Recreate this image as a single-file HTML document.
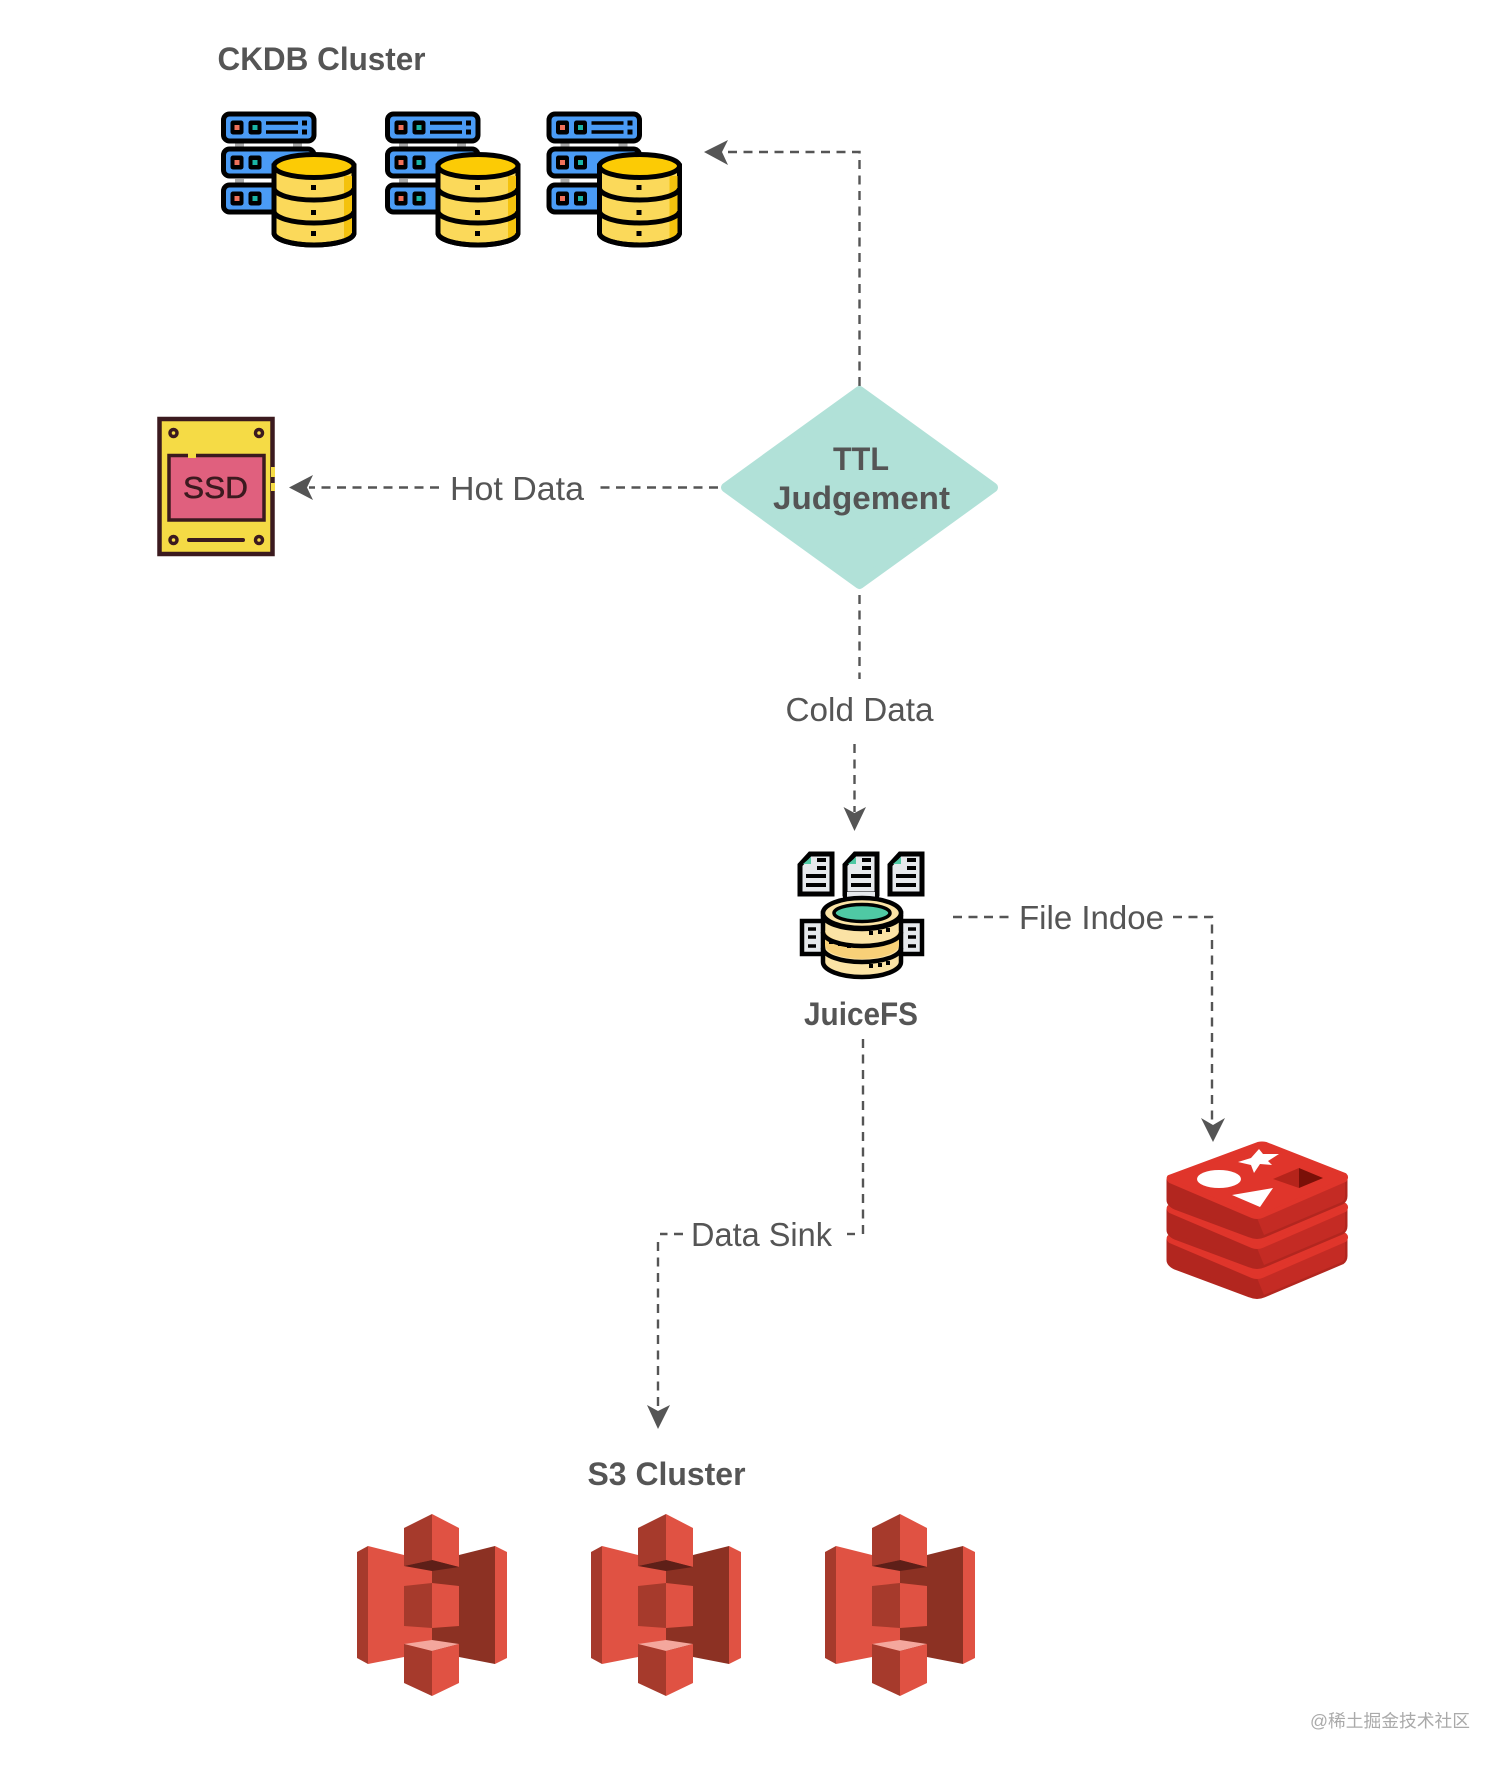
<!DOCTYPE html>
<html>
<head>
<meta charset="utf-8">
<style>
html,body{margin:0;padding:0;background:#fff;}
svg{display:block;}
text{font-family:"Liberation Sans","Noto Sans CJK SC",sans-serif;fill:#555;}
.b{font-weight:bold;font-size:32px;}
.r{font-size:33px;}
.d{fill:none;stroke:#555;stroke-width:2.4;stroke-dasharray:9 6.5;}
</style>
</head>
<body>
<svg width="1512" height="1772" viewBox="0 0 1512 1772" xmlns="http://www.w3.org/2000/svg">
<defs>
  <g id="row">
    <rect x="223.500" y="114" width="90.500" height="27" rx="6" fill="#4a9bf5" stroke="#000" stroke-width="5"/>
    <rect x="230.500" y="120.500" width="13" height="14" rx="2.500" fill="#000"/>
    <rect x="248.500" y="120.500" width="13" height="14" rx="2.500" fill="#000"/>
    <rect x="234.500" y="125" width="5" height="5" fill="#f0715a"/>
    <rect x="252.500" y="125" width="5" height="5" fill="#1ab5a5"/>
  </g>
  <g id="ckdb">
    <rect x="232" y="142" width="72" height="7" fill="#fff"/>
    <rect x="235" y="143" width="9" height="5" fill="#aaa"/>
    <rect x="293" y="143" width="9" height="5" fill="#aaa"/>
    <rect x="232" y="178" width="45" height="7" fill="#fff"/>
    <rect x="235" y="179" width="9" height="5" fill="#aaa"/>
    <use href="#row"/>
    <use href="#row" y="35"/>
    <use href="#row" y="71"/>
    <path d="M266 123H298M266 132H298" stroke="#000" stroke-width="3.500"/>
    <rect x="302" y="120.500" width="5" height="5" fill="#000"/>
    <rect x="302" y="129.500" width="5" height="5" fill="#000"/>
    <path d="M274 166V233A40 12 0 0 0 354 233V166Z" fill="#fbd95a" stroke="#000" stroke-width="5"/>
    <path d="M344 176H352V234L344 240Z" fill="#f4c20d"/>
    <ellipse cx="314" cy="166" rx="40" ry="11.500" fill="#fccb05" stroke="#000" stroke-width="5"/>
    <path d="M274 188A40 12 0 0 0 354 188M274 211A40 12 0 0 0 354 211" fill="none" stroke="#000" stroke-width="5"/>
    <path d="M274 233A40 12 0 0 0 354 233" fill="none" stroke="#000" stroke-width="5"/>
    <rect x="311" y="185" width="5" height="5" fill="#000"/>
    <rect x="311" y="210" width="5" height="5" fill="#000"/>
    <rect x="311" y="231" width="5" height="5" fill="#000"/>
  </g>
  <g id="doc">
    <path d="M810 854H832V894H800V865Z" fill="#e6e9ec" stroke="#000" stroke-width="5"/>
    <path d="M803 864L811 857V864Z" fill="#4fc9a4"/>
    <path d="M817 860H826M817 868H826M806 876H826M806 885H826" stroke="#000" stroke-width="4"/>
  </g>
  <g id="s3">
    <path d="M357 1552L368 1546V1664L357 1658Z" fill="#a63a2c"/>
    <path d="M368 1546L404 1555V1657L368 1664Z" fill="#e05243"/>
    <path d="M507 1552L495 1546V1664L507 1658Z" fill="#e05243"/>
    <path d="M495 1546L459 1555V1657L495 1664Z" fill="#8c3123"/>
    <path d="M404 1555H432V1657H404Z" fill="#e05243"/>
    <path d="M432 1555H459V1657H432Z" fill="#8c3123"/>
    <path d="M404 1528L432 1514V1560L404 1566Z" fill="#a63a2c"/>
    <path d="M432 1514L459 1528V1567L432 1560Z" fill="#e05243"/>
    <path d="M404 1566L432 1560L459 1567L432 1571Z" fill="#5e1f18"/>
    <path d="M404 1586L432 1583V1628L404 1626Z" fill="#a63a2c"/>
    <path d="M432 1583L459 1586V1626L432 1628Z" fill="#e05243"/>
    <path d="M404 1644L432 1640L459 1644L432 1651Z" fill="#f4a79d"/>
    <path d="M404 1644L432 1651V1696L404 1683Z" fill="#a63a2c"/>
    <path d="M432 1651L459 1644V1683L432 1696Z" fill="#e05243"/>
  </g>
  <g id="rl">
    <path d="M1169 1180V1200Q1169 1204 1175 1207L1250 1235Q1257 1238 1264 1235L1342 1202Q1345 1200 1345 1196V1180Z" fill="#b2261f" stroke="#b2261f" stroke-width="5" stroke-linejoin="round"/>
    <path d="M1257 1218L1264 1235L1342 1202Q1345 1200 1345 1196V1180Z" fill="#c42b24"/>
    <path d="M1169 1177L1258 1144Q1262 1143 1266 1144L1345 1175Q1347 1177 1345 1180L1262 1216Q1257 1218 1252 1216L1170 1181Q1168 1179 1169 1177Z" fill="#e0352b" stroke="#e0352b" stroke-width="4" stroke-linejoin="round"/>
  </g>
</defs>
<rect width="1512" height="1772" fill="#fff"/>

<!-- CKDB -->
<text class="b" x="217.500" y="70" textLength="208" lengthAdjust="spacingAndGlyphs">CKDB Cluster</text>
<use href="#ckdb"/>
<use href="#ckdb" x="164"/>
<use href="#ckdb" x="325.500"/>

<!-- TTL connector to CKDB -->
<path class="d" d="M859.500 386V152H723"/>
<path d="M704 152L728 140L722 152L728 165Z" fill="#555"/>

<!-- Diamond -->
<path d="M859.500 391L993 487.500L859.500 584L726 487.500Z" fill="#b1e1d8" stroke="#b1e1d8" stroke-width="10" stroke-linejoin="round"/>
<text class="b" x="833" y="470" textLength="56" lengthAdjust="spacingAndGlyphs">TTL</text>
<text class="b" x="773" y="509" textLength="177" lengthAdjust="spacingAndGlyphs">Judgement</text>

<!-- Hot data -->
<path class="d" d="M718 487.500H599"/>
<path class="d" d="M439 487.500H309"/>
<path d="M289 487.500L313 475L307 487.500L313 500Z" fill="#555"/>
<text class="r" x="450" y="500" textLength="134" lengthAdjust="spacingAndGlyphs">Hot Data</text>

<!-- SSD -->
<rect x="159.500" y="419" width="113" height="135" fill="#f5db45" stroke="#3b1a1f" stroke-width="4.500"/>
<rect x="271" y="467" width="4" height="10" fill="#f5db45"/>
<rect x="271" y="483" width="4" height="8" fill="#f5db45"/>
<rect x="169" y="455.500" width="95" height="64.500" fill="#e0607e" stroke="#3b1a1f" stroke-width="3.500"/>
<rect x="188" y="453" width="8" height="5" fill="#f5db45"/>
<g fill="#f5db45" stroke="#3b1a1f" stroke-width="3.500">
  <circle cx="173.500" cy="433" r="3.500"/><circle cx="259" cy="433" r="3.500"/>
  <circle cx="173.500" cy="540" r="3.500"/><circle cx="259" cy="540" r="3.500"/>
</g>
<path d="M189 540H243" stroke="#3b1a1f" stroke-width="4" stroke-linecap="round"/>
<text x="183" y="498" font-size="31" style="fill:#3b1a1f;stroke:#3b1a1f;stroke-width:.6" textLength="65" lengthAdjust="spacingAndGlyphs">SSD</text>

<!-- Cold data -->
<path class="d" d="M859.500 595V679"/>
<text class="r" x="785.500" y="721" textLength="148" lengthAdjust="spacingAndGlyphs">Cold Data</text>
<path class="d" d="M854.500 744V812"/>
<path d="M854.500 831L843.500 807L854.500 813L866 807Z" fill="#555"/>

<!-- JuiceFS icon -->
<use href="#doc"/>
<use href="#doc" x="45"/>
<use href="#doc" x="90"/>
<rect x="845" y="892" width="32" height="10" fill="#e6e9ec"/>
<path d="M845 892V902M877 892V902" stroke="#000" stroke-width="4"/>
<rect x="802" y="921" width="30" height="33" fill="#e6e9ec" stroke="#000" stroke-width="4.500"/>
<rect x="892" y="921" width="30" height="33" fill="#e6e9ec" stroke="#000" stroke-width="4.500"/>
<path d="M808 929H816M808 937H816M808 946H816M908 929H916M908 937H916M908 946H916" stroke="#000" stroke-width="3.500"/>
<path d="M823 913V962A39 15 0 0 0 901 962V913Z" fill="#fbe3a5" stroke="#000" stroke-width="4.500"/>
<path d="M825 930A37 14 0 0 0 899 930V945A37 14 0 0 1 825 945Z" fill="#f8d078"/>
<ellipse cx="862" cy="913" rx="39" ry="15" fill="#fbe3a5" stroke="#000" stroke-width="4.500"/>
<ellipse cx="862" cy="913" rx="28" ry="8.500" fill="#4fc9a4" stroke="#000" stroke-width="3.500"/>
<path d="M823 915A39 14 0 0 0 901 915M823 932A39 14 0 0 0 901 932M823 948A39 14 0 0 0 901 948" fill="none" stroke="#000" stroke-width="4.500"/>
<path d="M870 934h4v4h-4zM879 933h4v4h-4zM887 931h4v4h-4zM834 947h-4v-4h4zM843 949h-4v-4h4zM852 951h-4v-4h4zM870 967h4v4h-4zM879 966h4v4h-4zM887 964h4v4h-4z" fill="#000" transform="translate(-1,-3)"/>
<text class="b" x="804" y="1025" textLength="114" lengthAdjust="spacingAndGlyphs">JuiceFS</text>

<!-- File index -->
<path class="d" d="M953 917H1010" stroke-dasharray="10 5"/>
<text class="r" x="1019" y="929" textLength="145" lengthAdjust="spacingAndGlyphs">File Indoe</text>
<path class="d" d="M1173 917H1212V1125"/>
<path d="M1213 1142L1201 1118L1213 1125L1225 1118Z" fill="#555"/>

<!-- Redis -->
<g transform="translate(0,0)">
<use href="#rl" y="60"/>
<use href="#rl" y="30"/>
<use href="#rl"/>
<ellipse cx="1219" cy="1179" rx="22" ry="9" fill="#fff"/>
<path d="M1232 1195L1273 1188L1260 1207Z" fill="#fff"/>
<path d="M1259 1151L1263 1156L1279 1156L1268 1163L1272 1167L1260 1166L1254 1175L1251 1167L1238 1164L1251 1160Z" fill="#fff" transform="translate(0,-2)"/>
<path d="M1273 1179L1299 1168V1188Z" fill="#b5241b"/>
<path d="M1299 1168L1323 1178L1299 1188Z" fill="#7a1008"/>
</g>

<!-- Data sink -->
<path class="d" d="M863 1039V1234"/>
<path class="d" d="M855 1234H847" style="stroke-dasharray:none"/>
<text class="r" x="691" y="1246" textLength="141" lengthAdjust="spacingAndGlyphs">Data Sink</text>
<path class="d" d="M683 1234H660" stroke-dasharray="8 6"/>
<path class="d" d="M658 1242V1410"/>
<path d="M658 1429L647 1405L658 1411L670 1405Z" fill="#555"/>

<!-- S3 -->
<text class="b" x="587.500" y="1485" textLength="158" lengthAdjust="spacingAndGlyphs">S3 Cluster</text>
<use href="#s3"/>
<use href="#s3" x="234"/>
<use href="#s3" x="468"/>

<!-- Watermark -->
<text x="1310" y="1727" font-size="17.600" style="fill:#aaa" textLength="160" lengthAdjust="spacingAndGlyphs">@稀土掘金技术社区</text>
</svg>
</body>
</html>
